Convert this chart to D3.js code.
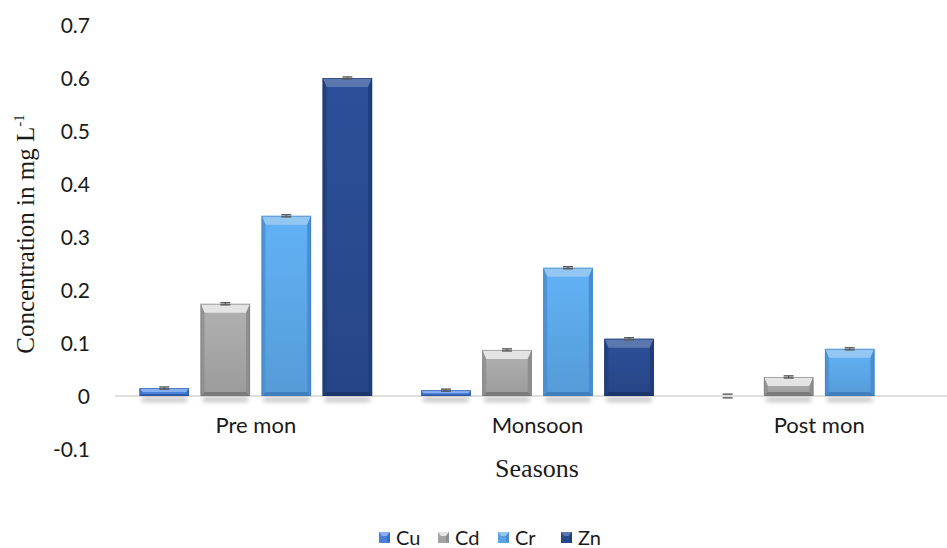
<!DOCTYPE html>
<html>
<head>
<meta charset="utf-8">
<script src="https://cdn.jsdelivr.net/npm/d3@7"></script>
<style>
  html, body { margin: 0; padding: 0; background: #fff; }
  svg { display: block; }
</style>
</head>
<body>
<svg id="chart" width="947" height="548"></svg>
<script>
// Seasonal heavy-metal concentrations (mg L-1)
const seasons = ["Pre mon", "Monsoon", "Post mon"];
const metals = ["Cu", "Cd", "Cr", "Zn"];
const cuValues = [0.015, 0.011, 0.0];
const cdValues = [0.174, 0.087, 0.036];
const crValues = [0.340, 0.242, 0.089];
const znValues = [0.600, 0.108, 0.0];
// standard errors
const cuErr = [0.002, 0.002, 0.0035];
const cdErr = [0.002, 0.002, 0.002];
const crErr = [0.002, 0.002, 0.002];
const znErr = [0.002, 0.002, 0.0];
const yTicks = [-0.1, 0, 0.1, 0.2, 0.3, 0.4, 0.5, 0.6, 0.7];
const yTickLabels = ["-0.1", "0", "0.1", "0.2", "0.3", "0.4", "0.5", "0.6", "0.7"];

const seriesValues = { Cu: cuValues, Cd: cdValues, Cr: crValues, Zn: znValues };
const seriesErr = { Cu: cuErr, Cd: cdErr, Cr: crErr, Zn: znErr };
// Zn was not measured after the monsoon
const hasData = { Cu: [true, true, true], Cd: [true, true, true], Cr: [true, true, true], Zn: [true, true, false] };

// Bevel palette per metal: body, top face, side faces, bottom face
const palette = {
  Cu: { body: "#4c80d8", top: "#86aef0", side: "#3b6cc4", bottom: "#2f5aa6", edge: "#2a56a0" },
  Cd: { body: "#a3a3a3", top: "#e4e4e4", side: "#8e8e8e", bottom: "#7b7b7b", edge: "#7a7a7a" },
  Cr: { body: "#5aa3e2", top: "#94c6f2", side: "#4a8ed0", bottom: "#3f7fbe", edge: "#3d7cba" },
  Zn: { body: "#28498c", top: "#5a77b0", side: "#203e7a", bottom: "#1b346a", edge: "#1a3468" }
};

const sansFont = "Lato, 'Open Sans', sans-serif";
const serifFont = "'Liberation Serif', 'Times New Roman', serif";

const svg = d3.select("#chart");
const defs = svg.append("defs");
defs.append("filter").attr("id", "shadowBlur")
  .attr("x", "-20%").attr("y", "-100%").attr("width", "140%").attr("height", "300%")
  .append("feGaussianBlur").attr("stdDeviation", 2.2);

metals.forEach(m => {
  const g = defs.append("linearGradient").attr("id", "body-" + m)
    .attr("x1", 0).attr("y1", 0).attr("x2", 0).attr("y2", 1);
  g.append("stop").attr("offset", "0%").attr("stop-color", d3.color(palette[m].body).brighter(0.25));
  g.append("stop").attr("offset", "100%").attr("stop-color", d3.color(palette[m].body).darker(0.15));
});

const x0 = d3.scaleBand().domain(seasons).range([115, 960]).padding(0);
const x1 = d3.scaleBand().domain(metals).range([0, x0.bandwidth()])
  .paddingInner(0.189).paddingOuter(0.402);
const y = d3.scaleLinear().domain([-0.1, 0.7]).range([449, 25]);

// Y tick labels (no axis line, no gridlines)
const yAxis = d3.axisLeft(y).tickValues(yTicks).tickSize(0).tickPadding(0)
  .tickFormat((d, i) => yTickLabels[i]);
const yG = svg.append("g").attr("transform", "translate(90,0)").call(yAxis);
yG.select(".domain").remove();
yG.selectAll("text")
  .attr("font-family", sansFont)
  .attr("font-size", 21).attr("fill", "#1a1a1a").attr("dy", "0.36em");

// Bevelled bar with soft drop shadow
function bevelBar(g, xa, w, yTop, yBot, m) {
  const p = palette[m];
  const h = yBot - yTop;
  const xb = xa + w;
  g.append("rect")
    .attr("x", xa + 2).attr("y", yBot + 1).attr("width", w - 4).attr("height", 5)
    .attr("fill", "#9a9a9a").attr("opacity", 0.55).attr("filter", "url(#shadowBlur)");
  g.append("rect").attr("x", xa).attr("y", yTop).attr("width", w).attr("height", h)
    .attr("fill", "url(#body-" + m + ")");
  const b = Math.min(9, h / 2);
  const s = Math.min(4, h / 3, w / 4);
  const bb = Math.min(4, h / 4);
  g.append("polygon").attr("points", [[xa, yTop], [xb, yTop], [xb - s, yTop + b], [xa + s, yTop + b]].join(" "))
    .attr("fill", p.top);
  g.append("polygon").attr("points", [[xa, yTop], [xa + s, yTop + b], [xa + s, yBot - bb], [xa, yBot]].join(" "))
    .attr("fill", p.side).attr("opacity", 0.8);
  g.append("polygon").attr("points", [[xb, yTop], [xb - s, yTop + b], [xb - s, yBot - bb], [xb, yBot]].join(" "))
    .attr("fill", p.side);
  g.append("polygon").attr("points", [[xa, yBot], [xa + s, yBot - bb], [xb - s, yBot - bb], [xb, yBot]].join(" "))
    .attr("fill", p.bottom);
  g.append("rect").attr("x", xa + 0.5).attr("y", yTop + 0.5).attr("width", w - 1).attr("height", Math.max(0, h - 1))
    .attr("fill", "none").attr("stroke", p.edge).attr("stroke-width", 0.8).attr("opacity", 0.7);
}

const zeroG = svg.append("g");
const barsG = svg.append("g");
const errG = svg.append("g");
zeroG.append("line")
  .attr("x1", x0.range()[0]).attr("x2", x0.range()[1])
  .attr("y1", y(0)).attr("y2", y(0))
  .attr("stroke", "#d4d4d4").attr("stroke-width", 1.3);

seasons.forEach((season, i) => {
  metals.forEach(m => {
    if (!hasData[m][i]) return;
    const v = seriesValues[m][i];
    const e = seriesErr[m][i];
    const xa = x0(season) + x1(m);
    const w = x1.bandwidth();
    if (v > 0) bevelBar(barsG, xa, w, y(v), y(0), m);
    // error bar
    const cx = xa + w / 2;
    [v + e, v - e].forEach(ev => {
      errG.append("line")
        .attr("x1", cx - 5).attr("x2", cx + 5)
        .attr("y1", y(ev)).attr("y2", y(ev))
        .attr("stroke", "#595959").attr("stroke-width", 1.4);
    });
    if (v > 0) {
      errG.append("line").attr("x1", cx).attr("x2", cx)
        .attr("y1", y(v + e)).attr("y2", y(v - e))
        .attr("stroke", "#595959").attr("stroke-width", 1.2);
    }
  });
});

// Category labels
const xAxis = d3.axisBottom(x0).tickSize(0).tickPadding(0);
const xG = svg.append("g").attr("transform", "translate(0,433)").call(xAxis);
xG.select(".domain").remove();
xG.selectAll("text")
  .attr("font-family", sansFont)
  .attr("font-size", 22).attr("fill", "#1a1a1a").attr("dy", "0");

// Axis titles
svg.append("text")
  .attr("transform", "translate(34,234) rotate(-90)")
  .attr("text-anchor", "middle")
  .attr("font-family", serifFont)
  .attr("font-size", 25).attr("fill", "#1a1a1a")
  .call(t => {
    t.append("tspan").text("Concentration in mg L");
    t.append("tspan").attr("font-size", 15).attr("dy", -10).text("-1");
  });

svg.append("text")
  .attr("x", 537).attr("y", 477)
  .attr("text-anchor", "middle")
  .attr("font-family", serifFont)
  .attr("font-size", 26).attr("fill", "#1a1a1a")
  .text("Seasons");

// Legend
const legendX = [379, 438, 498, 561];
const legend = svg.append("g");
metals.forEach((m, i) => {
  const g = legend.append("g");
  const p = palette[m];
  const lx = legendX[i], ly = 532, sz = 11;
  g.append("rect").attr("x", lx).attr("y", ly).attr("width", sz).attr("height", sz).attr("fill", p.body);
  g.append("polygon").attr("points", [[lx, ly], [lx + sz, ly], [lx + sz - 3, ly + 4], [lx + 3, ly + 4]].join(" "))
    .attr("fill", p.top);
  g.append("polygon").attr("points", [[lx + sz, ly], [lx + sz - 3, ly + 4], [lx + sz - 3, ly + sz - 2], [lx + sz, ly + sz]].join(" "))
    .attr("fill", p.side);
  g.append("text").attr("x", lx + 17).attr("y", ly + 6)
    .attr("dy", "0.36em")
    .attr("font-family", sansFont)
    .attr("font-size", 20).attr("fill", "#1a1a1a")
    .text(m);
});
</script>
</body>
</html>
